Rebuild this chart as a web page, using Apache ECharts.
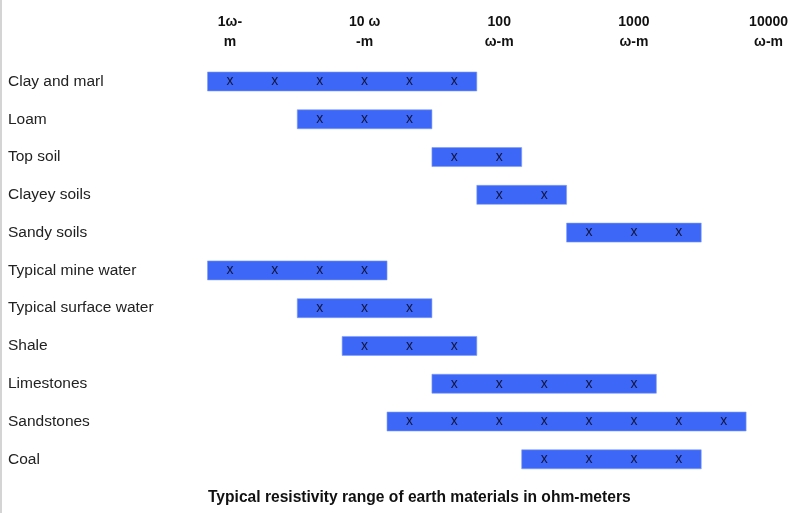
<!DOCTYPE html>
<html>
<head>
<meta charset="utf-8">
<script src="https://cdn.jsdelivr.net/npm/echarts@6/dist/echarts.min.js"></script>
<style>
  html, body { margin: 0; padding: 0; background: #fff; }
  #chart { width: 800px; height: 513px; }
</style>
</head>
<body>
<div id="chart"></div>
<script>
// steps are thirds of a decade: step 0 = 1 ohm-m, step 3 = 10, step 6 = 100 ...
const materials = ['Clay and marl', 'Loam', 'Top soil', 'Clayey soils', 'Sandy soils',
  'Typical mine water', 'Typical surface water', 'Shale', 'Limestones', 'Sandstones', 'Coal']
const firstStep = [0, 2, 5, 6, 8, 0, 2, 3, 5, 4, 7]
const lastStep  = [5, 4, 6, 7, 10, 3, 4, 5, 9, 11, 10]
const tickSteps = [0, 3, 6, 9, 12]
const tickLabels = ['1ω-\nm', '10 ω\n-m', '100\nω-m', '1000\nω-m', '10000\nω-m']

const font = 'Arial, "Liberation Sans", sans-serif'
const chart = echarts.init(document.getElementById('chart'))

const data = materials.map((m, i) => [i, firstStep[i], lastStep[i]])

function renderItem(params, api){
  const row = api.value(0)
  const a = api.value(1)
  const b = api.value(2)
  const p0 = api.coord([a - 0.5, row])
  const p1 = api.coord([b + 0.5, row])
  const h = 19
  const kids = [{
    type: 'rect',
    shape: { x: p0[0], y: p0[1] - h / 2, width: p1[0] - p0[0], height: h },
    style: { fill: '#3d68f7', stroke: '#7f9cf7', lineWidth: 0.6 }
  }]
  for(let s = a; s <= b; s++){
    const c = api.coord([s, row])
    kids.push({
      type: 'text',
      x: c[0], y: c[1],
      style: { text: 'x', fill: '#14143c', font: '14px ' + font, align: 'center', verticalAlign: 'middle' }
    })
  }
  return { type: 'group', children: kids }
}

chart.setOption({
  animation: false,
  title: {
    text: 'Typical resistivity range of earth materials in ohm-meters',
    left: 203, top: 485,
    textStyle: { fontFamily: font, fontSize: 15.6, fontWeight: 'bold', color: '#111' }
  },
  graphic: [{ type: 'rect', shape: { x: 0, y: 0, width: 2, height: 513 }, style: { fill: '#d4d4d4' } }],
  grid: { left: 207.5, right: 9, top: 62.6, bottom: 34.8 },
  xAxis: {
    type: 'value', position: 'top', min: -0.5, max: 12.5,
    axisLine: { show: false }, axisTick: { show: false }, splitLine: { show: false },
    axisLabel: {
      customValues: tickSteps,
      formatter: v => tickLabels[tickSteps.indexOf(v)] || '',
      fontFamily: font, fontSize: 14, fontWeight: 'bold', color: '#111',
      lineHeight: 20, margin: 10
    }
  },
  yAxis: {
    type: 'category', data: materials, inverse: true,
    axisLine: { show: false }, axisTick: { show: false }, splitLine: { show: false },
    axisLabel: { align: 'left', margin: 199.5, fontFamily: font, fontSize: 15.5, color: '#222' }
  },
  series: [{
    type: 'custom', renderItem,
    encode: { x: [1, 2], y: 0 },
    data
  }]
})
</script>
</body>
</html>
